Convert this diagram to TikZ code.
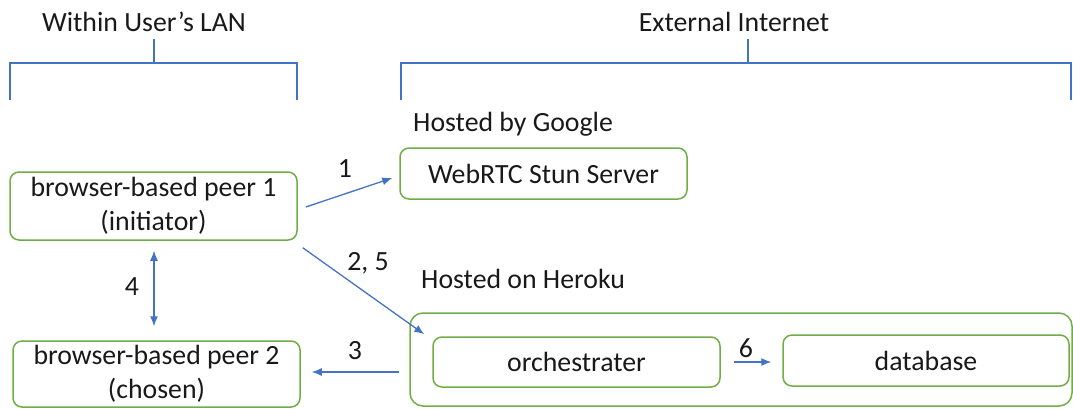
\documentclass[tikz,border=0pt]{standalone}
\usepackage{fontspec}
\setmainfont{Carlito}
\usetikzlibrary{arrows.meta,calc}
\definecolor{boxgreen}{RGB}{112,173,71}
\definecolor{linkblue}{RGB}{68,114,196}
\tikzset{
  box/.style={draw=boxgreen, line width=1.5pt, rounded corners=9pt, align=center,
              inner sep=0pt, text=black!90},
  label/.style={inner sep=0pt, text=black!90},
  link/.style={draw=linkblue, line width=1.3pt, -{Latex[length=10pt,width=8pt]}},
  bothlink/.style={draw=linkblue, line width=1.3pt, {Latex[length=10pt,width=8pt]}-{Latex[length=10pt,width=8pt]}},
  bracket/.style={draw=linkblue, line width=1.2pt},
}
\begin{document}
\begin{tikzpicture}[x=1pt, y=-1pt, font=\fontsize{27.8}{33.5}\selectfont]
\useasboundingbox (0,0) rectangle (1073,408);

% group headings and their brackets
\node[label] (lan) at (144,22) {Within User’s LAN};
\node[label] (ext) at (734,22) {External Internet};
\draw[bracket] (10,100) -- (10,63) -- (297,63) -- (297,100) (154,63) -- (154,39);
\draw[bracket] (401,100) -- (401,63) -- (1071,63) -- (1071,100) (748,63) -- (748,39);

% hosting captions
\node[label, anchor=west] (google) at (413,124) {Hosted by Google};
\node[label, anchor=west] (heroku-cap) at (421,279) {Hosted on Heroku};

% boxes
\node[box, minimum width=287, minimum height=68] (peer1) at (153.5,206) {browser-based peer 1\\(initiator)};
\node[box, minimum width=287, minimum height=66] (peer2) at (156.5,374) {browser-based peer 2\\(chosen)};
\node[box, minimum width=287, minimum height=51] (stun) at (543.5,173.5) {WebRTC Stun Server};
\node[box, rounded corners=13pt, minimum width=662, minimum height=93] (heroku) at (741,359.5) {};
\node[box, minimum width=287, minimum height=50] (orch) at (576.5,362) {orchestrater};
\node[box, minimum width=286, minimum height=51] (db) at (926,360.5) {database};

% connectors
\draw[link] ($(peer1.east)+(8,1)$) -- ($(stun.west)+(-7,4.5)$);
\draw[link] ($(peer1.south east)+(5,7)$) -- ($(heroku.north west)+(15,22)$);
\coordinate (s3) at ($(heroku.west)+(-10,12.5)$);
\coordinate (e3) at ($(peer2.east)+(11,0)$);
\draw[link] (s3) -- (s3 -| e3);
\coordinate (s4) at ($(peer1.south)+(0.5,10)$);
\coordinate (e4) at ($(peer2.north)+(0,-14)$);
\draw[bothlink] (s4) -- (s4 |- e4);
\coordinate (s6) at ($(orch.east)+(13,0)$);
\coordinate (e6) at ($(db.west)+(-11,0)$);
\draw[link] (s6) -- (s6 -| e6);

% connector labels
\node[label] (l1) at (345,169) {1};
\node[label] (l25) at (368,263) {2, 5};
\node[label] (l3) at (355,351) {3};
\node[label] (l4) at (132,287) {4};
\node[label] (l6) at (746,348) {6};
\end{tikzpicture}
\end{document}
